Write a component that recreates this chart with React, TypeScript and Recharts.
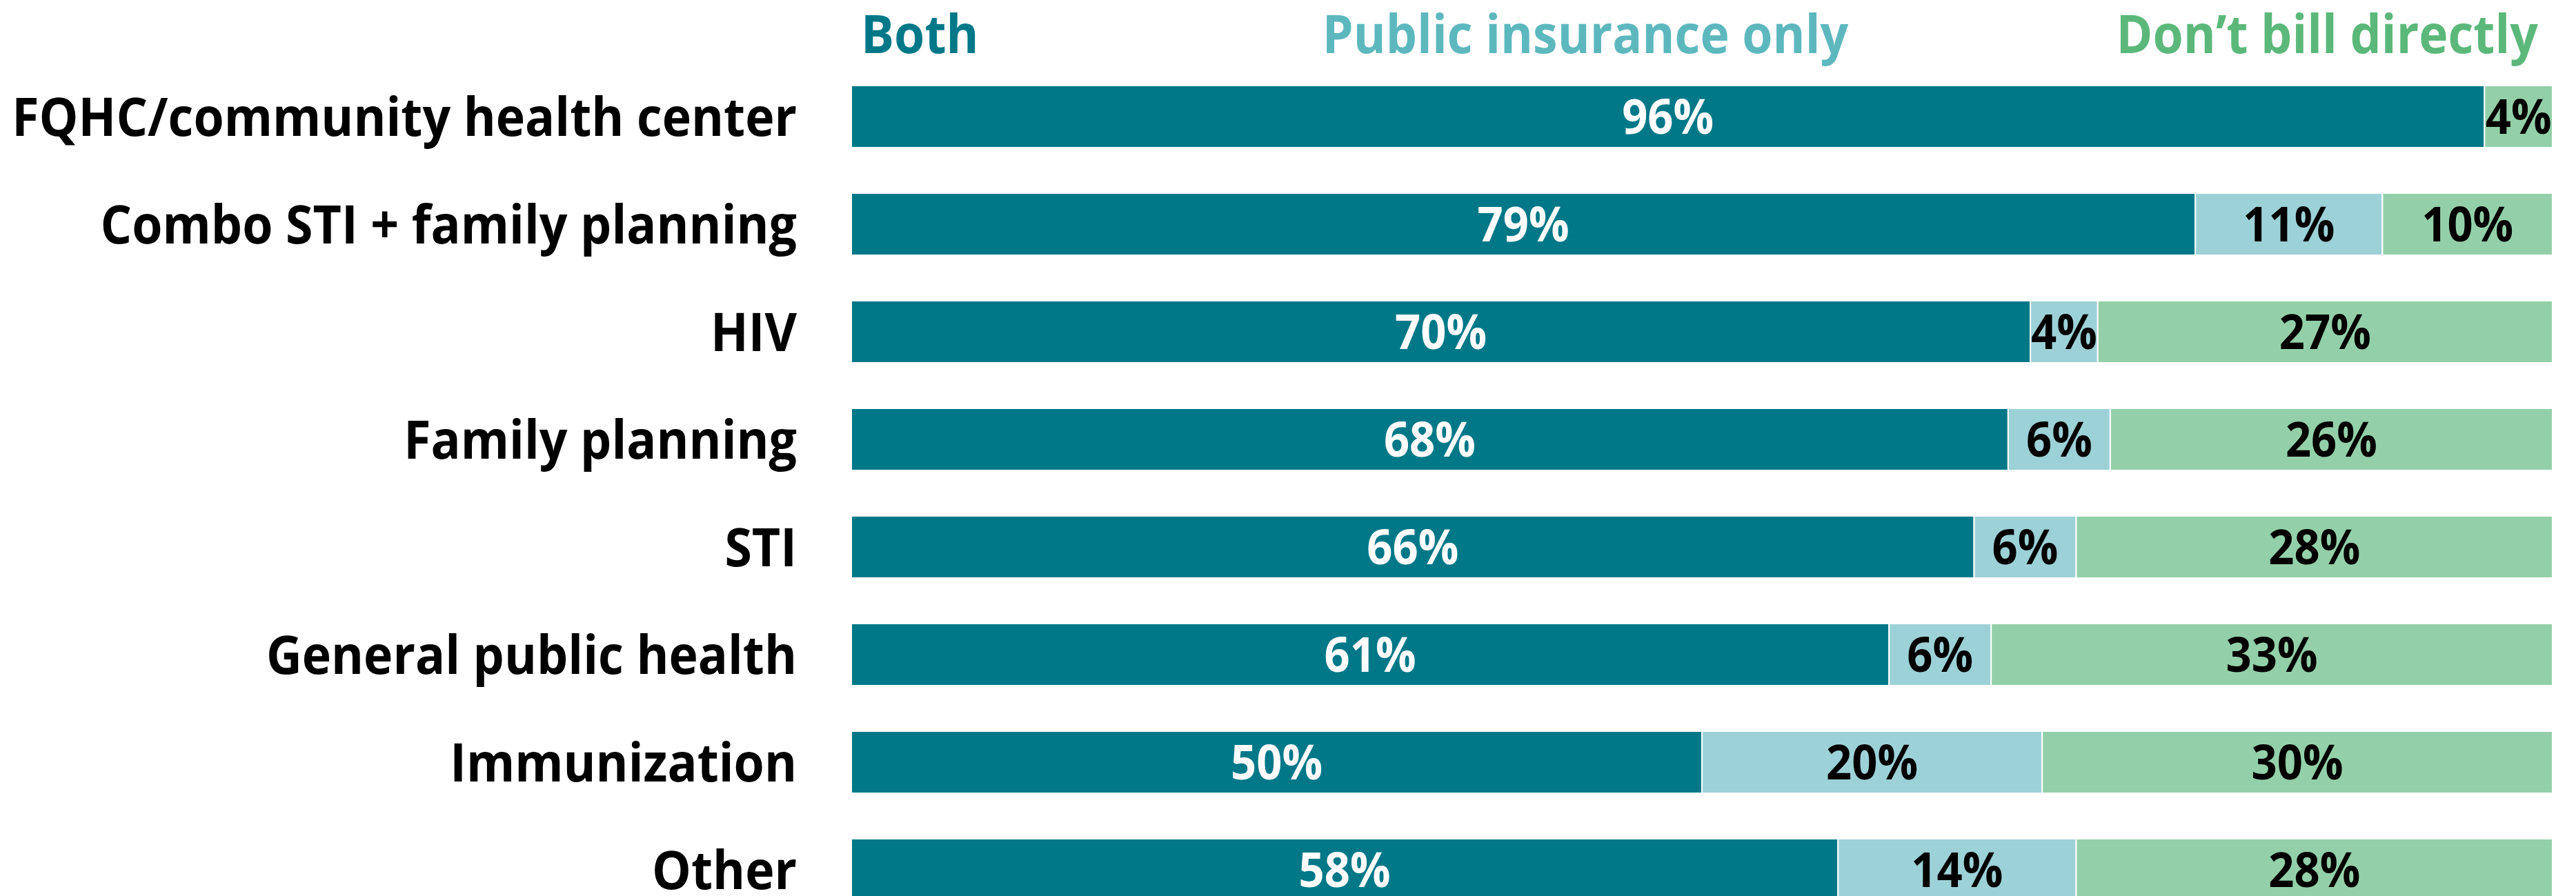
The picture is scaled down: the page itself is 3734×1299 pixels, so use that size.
import { BarChart, Bar, XAxis, YAxis, LabelList, Legend } from 'recharts';

const categories = [
  'FQHC/community health center',
  'Combo STI + family planning',
  'HIV',
  'Family planning',
  'STI',
  'General public health',
  'Immunization',
  'Other',
];
const bothValues = [96, 79, 70, 68, 66, 61, 50, 58];
const publicOnlyValues = [0, 11, 4, 6, 6, 6, 20, 14];
const dontBillValues = [4, 10, 27, 26, 28, 33, 30, 28];

const seriesNames = ['Both', 'Public insurance only', 'Don\u2019t bill directly'];

const colors = {
  both: '#007888',
  publicOnly: '#9cd1d7',
  dontBill: '#93d0a9',
  bothText: '#007888',
  publicText: '#5db8be',
  dontBillText: '#5cb87a',
};

const FONT = '"Open Sans", sans-serif';
// Open Sans is wider than the original's face, squeeze it a little
const SQUEEZE = 0.93;

const chartData = categories.map((name, i) => ({
  name,
  both: bothValues[i],
  publicOnly: publicOnlyValues[i],
  dontBill: dontBillValues[i],
}));

const CategoryTick = ({ x, y, payload }: any) => (
  <text
    transform={`translate(${x},${y}) scale(${SQUEEZE},1)`}
    dy="0.36em"
    textAnchor="end"
    fontFamily={FONT}
    fontWeight={700}
    fontSize={77}
    fill="#000"
  >
    {payload.value}
  </text>
);

const makeLabel = (fill: string) => (props: any) => {
  const { x, y, width, height, value } = props;
  if (!value) return null;
  return (
    <text
      transform={`translate(${x + width / 2},${y + height / 2}) scale(${SQUEEZE},1)`}
      dy="0.36em"
      textAnchor="middle"
      fontFamily={FONT}
      fontWeight={700}
      fontSize={70}
      fill={fill}
    >
      {value}%
    </text>
  );
};

// legend row above the bars: Both left, Public centred, Don't bill right
const TopLegend = () => {
  const items = [
    { x: 1248, anchor: 'start', color: colors.bothText },
    { x: 2298, anchor: 'middle', color: colors.publicText },
    { x: 3679, anchor: 'end', color: colors.dontBillText },
  ];
  return (
    <svg width={3734} height={100} style={{ display: 'block' }}>
      {items.map((it, i) => (
        <text
          key={seriesNames[i]}
          transform={`translate(${it.x},77) scale(${SQUEEZE},1)`}
          textAnchor={it.anchor as any}
          fontFamily={FONT}
          fontWeight={700}
          fontSize={77}
          fill={it.color}
        >
          {seriesNames[i]}
        </text>
      ))}
    </svg>
  );
};

export default function App() {
  return (
    <div style={{ width: 3734, height: 1299, overflow: 'hidden', background: '#fff' }}>
      <style>{'body{margin:0}'}</style>
      <BarChart
        width={3734}
        height={1339}
        data={chartData}
        layout="vertical"
        stackOffset="expand"
        barSize={90}
        margin={{ top: -9, right: 34, left: 0, bottom: 0 }}
      >
        <XAxis type="number" hide domain={[0, 1]} />
        <YAxis
          type="category"
          dataKey="name"
          width={1234}
          axisLine={false}
          tickLine={false}
          tickSize={0}
          tickMargin={79}
          interval={0}
          tick={<CategoryTick />}
        />
        <Legend
          verticalAlign="top"
          wrapperStyle={{ top: 0, left: 0, width: 3734 }}
          content={<TopLegend />}
        />
        <Bar dataKey="both" name={seriesNames[0]} stackId="a" fill={colors.both} stroke="#fff" strokeWidth={2} isAnimationActive={false}>
          <LabelList dataKey="both" content={makeLabel('#fff')} />
        </Bar>
        <Bar dataKey="publicOnly" name={seriesNames[1]} stackId="a" fill={colors.publicOnly} stroke="#fff" strokeWidth={2} isAnimationActive={false}>
          <LabelList dataKey="publicOnly" content={makeLabel('#000')} />
        </Bar>
        <Bar dataKey="dontBill" name={seriesNames[2]} stackId="a" fill={colors.dontBill} stroke="#fff" strokeWidth={2} isAnimationActive={false}>
          <LabelList dataKey="dontBill" content={makeLabel('#000')} />
        </Bar>
      </BarChart>
    </div>
  );
}
